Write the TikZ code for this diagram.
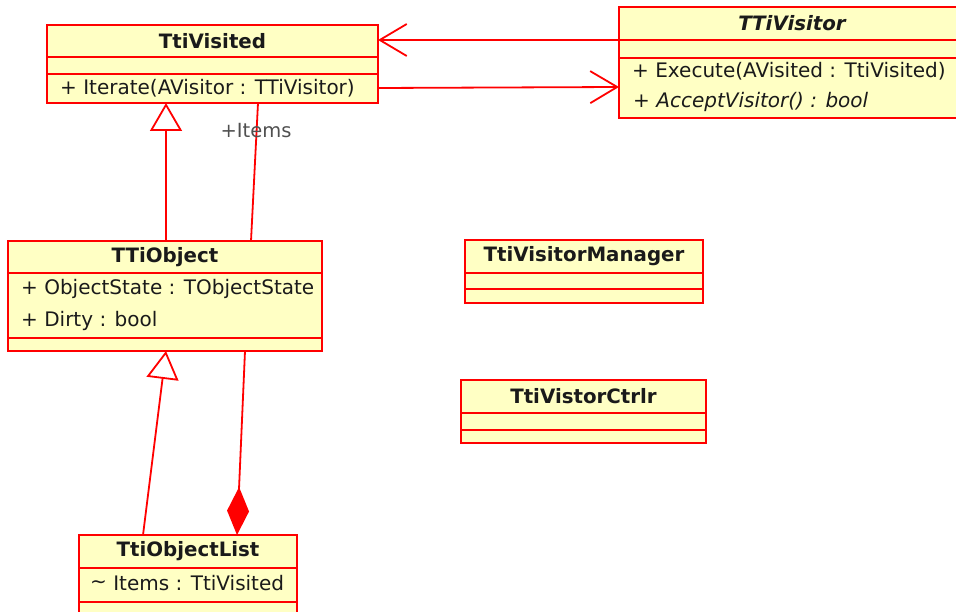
\documentclass[tikz,border=0pt]{standalone}
\usepackage{fontspec}
\setmainfont{DejaVu Sans}
\usetikzlibrary{arrows.meta,calc}
\definecolor{umlred}{HTML}{FF0000}
\definecolor{umlfill}{HTML}{FFFFC4}
\definecolor{umltext}{HTML}{1A1A1A}
\definecolor{umlgray}{HTML}{505050}
\begin{document}
\begin{tikzpicture}[x=1pt,y=-1pt,
  cls/.style={draw=umlred, fill=umlfill, line width=1.8pt, rectangle, anchor=north west, inner sep=0pt, outer sep=0pt},
  clsname/.style={font=\fontsize{19.8}{21}\selectfont\bfseries, text=umltext, anchor=center, inner sep=0pt},
  member/.style={font=\fontsize{20}{22}\selectfont, text=umltext, anchor=west, inner sep=0pt},
  sepline/.style={draw=umlred, line width=1.8pt},
  conn/.style={draw=umlred, line width=1.8pt},
  navtip/.style={-{Straight Barb[length=27pt,width=32pt,line width=1.8pt]}},
  gentip/.style={-{Triangle[open,length=28pt,width=32pt,line width=1.8pt]}},
  comptip/.style={-{Diamond[length=48pt,width=22pt]}},
  rolelabel/.style={font=\fontsize{19.5}{21}\selectfont, text=umlgray, inner sep=0pt},
]
\useasboundingbox (0,0) rectangle (956,612);
\clip (0,0) rectangle (956,612);

% TtiVisited
\node[cls, minimum width=331pt, minimum height=78pt] (visited) at (47,25) {};
\draw[sepline] ($(visited.north west)+(0,32)$) -- ($(visited.north east)+(0,32)$);
\draw[sepline] ($(visited.north west)+(0,49)$) -- ($(visited.north east)+(0,49)$);
\node[clsname] (visitedname) at (212.5,41) {TtiVisited};
\node[member] (visitedop) at (60,88) {+ Iterate(AVisitor : TTiVisitor)};

% TTiVisitor
\node[cls, minimum width=346pt, minimum height=111pt] (visitor) at (619,7) {};
\draw[sepline] ($(visitor.north west)+(0,33)$) -- ($(visitor.north east)+(0,33)$);
\draw[sepline] ($(visitor.north west)+(0,51)$) -- ($(visitor.north east)+(0,51)$);
\node[clsname, font=\fontsize{19.8}{21}\selectfont\bfseries\itshape] (visitorname) at (792,23.5) {TTiVisitor};
\node[member] (visitorop1) at (632,71) {+ Execute(AVisited : TtiVisited)};
\node[member] (visitorop2) at (633,102) {+ \textit{AcceptVisitor() : bool}};

% TTiObject
\node[cls, minimum width=314pt, minimum height=110pt] (object) at (8,241) {};
\draw[sepline] ($(object.north west)+(0,32)$) -- ($(object.north east)+(0,32)$);
\draw[sepline] ($(object.north west)+(0,97)$) -- ($(object.north east)+(0,97)$);
\node[clsname] (objectname) at (165,257) {TTiObject};
\node[member] (objectattr1) at (21,289) {+ ObjectState : TObjectState};
\node[member] (objectattr2) at (21,321) {+ Dirty : bool};

% TtiVisitorManager
\node[cls, minimum width=238pt, minimum height=63pt] (manager) at (465,240) {};
\draw[sepline] ($(manager.north west)+(0,33)$) -- ($(manager.north east)+(0,33)$);
\draw[sepline] ($(manager.north west)+(0,49)$) -- ($(manager.north east)+(0,49)$);
\node[clsname] (managername) at (584,256) {TtiVisitorManager};

% TtiVistorCtrlr
\node[cls, minimum width=245pt, minimum height=63pt] (ctrlr) at (461,380) {};
\draw[sepline] ($(ctrlr.north west)+(0,33)$) -- ($(ctrlr.north east)+(0,33)$);
\draw[sepline] ($(ctrlr.north west)+(0,50)$) -- ($(ctrlr.north east)+(0,50)$);
\node[clsname] (ctrlrname) at (583.5,396) {TtiVistorCtrlr};

% TtiObjectList
\node[cls, minimum width=218pt, minimum height=100pt] (list) at (79,535) {};
\draw[sepline] ($(list.north west)+(0,33)$) -- ($(list.north east)+(0,33)$);
\draw[sepline] ($(list.north west)+(0,67)$) -- ($(list.north east)+(0,67)$);
\node[clsname] (listname) at (188,551) {TtiObjectList};
\node[member] (listattr) at (90,583) {\raisebox{0.15ex}{\textasciitilde}\ Items : TtiVisited};

% connector end points
\coordinate (visitedA) at ($(visited.north east)+(0,15)$);
\coordinate (visitorA) at ($(visitor.north west)+(0,33)$);
\coordinate (visitedB) at ($(visited.north east)+(0,63)$);
\coordinate (visitorB) at ($(visitor.north west)+(0,80)$);
\coordinate (visitedGen) at ($(visited.south west)+(119,0)$);
\coordinate (objectGenTop) at ($(object.north west)+(158,0)$);
\coordinate (visitedItems) at ($(visited.south west)+(211,0)$);
\coordinate (objectItems) at ($(object.north west)+(243,0)$);
\coordinate (objectGenBot) at ($(object.south west)+(158,0)$);
\coordinate (listGen) at ($(list.north west)+(64,0)$);
\coordinate (objectComp) at ($(object.south west)+(237,0)$);
\coordinate (listComp) at ($(list.north west)+(158,0)$);

% connectors
\draw[conn, navtip] (visitorA) -- (visitedA);
\draw[conn, navtip] (visitedB) -- (visitorB);
\draw[conn, gentip] (objectGenTop) -- (visitedGen);
\draw[conn] (visitedItems) -- (objectItems);
\node[rolelabel] (itemslabel) at (256,131) {+Items};
\draw[conn, gentip] (listGen) -- (objectGenBot);
\draw[conn, comptip] (objectComp) -- (listComp);
\end{tikzpicture}
\end{document}
